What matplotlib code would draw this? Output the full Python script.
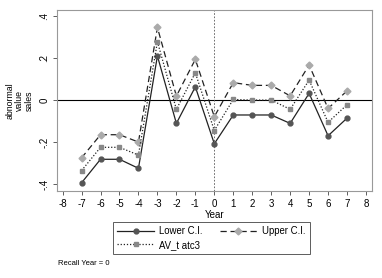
import numpy as np
import matplotlib.pyplot as plt

years = [-7, -6, -5, -4, -3, -2, -1, 0, 1, 2, 3, 4, 5, 6, 7]
lower_ci = [-0.394, -0.282, -0.282, -0.325, 0.21, -0.111, 0.063, -0.208,
            -0.071, -0.071, -0.071, -0.111, 0.032, -0.17, -0.086]
upper_ci = [-0.275, -0.165, -0.165, -0.20, 0.346, 0.019, 0.194, -0.079,
            0.083, 0.07, 0.07, 0.02, 0.167, -0.04, 0.044]
av_tatc3 = [-0.336, -0.225, -0.225, -0.262, 0.278, -0.044, 0.13, -0.145,
            0.003, 0.0, 0.0, -0.044, 0.095, -0.106, -0.022]
yticks = [-0.4, -0.2, 0, 0.2, 0.4]
ytick_labels = ["-.4", "-.2", "0", ".2", ".4"]

plt.rcParams['font.family'] = ['Liberation Sans', 'DejaVu Sans']
fig = plt.figure(figsize=(3.82, 2.78), dpi=100)
ax = fig.add_axes([0.149, 0.313, 0.825, 0.651])

lo, = ax.plot(years, lower_ci, color='#222222', lw=0.9, ls='-', marker='o', ms=3.5,
              mfc='#555555', mec='#555555', label='Lower C.I.')
up, = ax.plot(years, upper_ci, color='#222222', lw=0.9, ls=(0, (5, 3)), marker='D', ms=3.5,
              mfc='#aaaaaa', mec='#aaaaaa', label='Upper C.I.')
av, = ax.plot(years, av_tatc3, color='#222222', lw=0.9, ls=(0, (1, 1.5)), marker='s', ms=3.5,
              mfc='#888888', mec='#888888', label='AV_t atc3')
ax.axhline(0, color='black', lw=0.8, zorder=1)
ax.axvline(0, color='#555555', lw=0.6, ls=(0, (2, 2)), zorder=1)

ax.set_xlim(-8.3, 8.32)
ax.set_ylim(-0.433, 0.429)
ax.set_xticks(range(-8, 9))
ax.set_xticklabels([str(i) for i in range(-8, 9)], fontsize=7)
ax.set_yticks(yticks)
ax.set_yticklabels(ytick_labels, fontsize=7, rotation=90, va='center')
ax.tick_params(length=3, width=0.6, color='#444444', pad=2.5)
for s in ax.spines.values():
    s.set_color('#999999')
    s.set_linewidth(0.8)
ax.set_xlabel('Year', fontsize=7, labelpad=1)
ax.set_ylabel('abnormal\nvalue\nsales', fontsize=6.3, labelpad=4, linespacing=1.1)

# column-major fill: gives Lower, Upper on row 1 and AV on row 2
leg = fig.legend([lo, av, up], ['Lower C.I.', 'AV_t atc3', 'Upper C.I.'],
                 loc='upper left', bbox_to_anchor=(113 / 382, 1 - 222 / 278),
                 ncol=2, fontsize=6.9, frameon=True, fancybox=False,
                 edgecolor='#333333', handlelength=3.8, borderpad=0.45,
                 labelspacing=0.35, handletextpad=0.6, columnspacing=1.8,
                 borderaxespad=0)
leg.get_frame().set_linewidth(0.7)

fig.text(0.152, 0.045, 'Recall Year = 0', fontsize=5.5)

fig.savefig('out.png', dpi=100)
